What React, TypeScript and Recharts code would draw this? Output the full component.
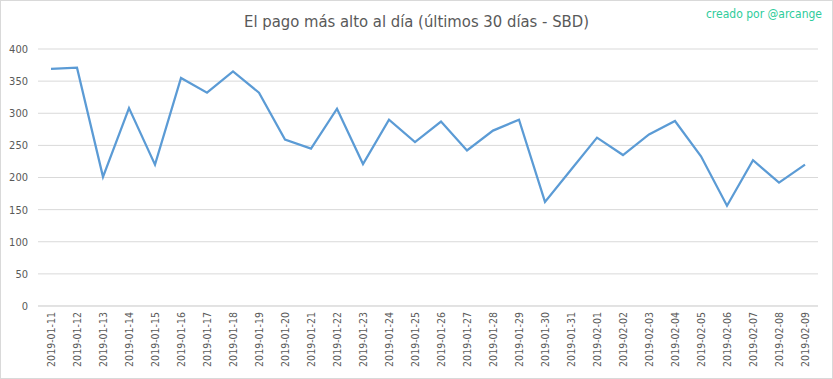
import { LineChart, Line, XAxis, YAxis, CartesianGrid } from 'recharts'

const dates = [
  '2019-01-11', '2019-01-12', '2019-01-13', '2019-01-14', '2019-01-15', '2019-01-16',
  '2019-01-17', '2019-01-18', '2019-01-19', '2019-01-20', '2019-01-21', '2019-01-22',
  '2019-01-23', '2019-01-24', '2019-01-25', '2019-01-26', '2019-01-27', '2019-01-28',
  '2019-01-29', '2019-01-30', '2019-01-31', '2019-02-01', '2019-02-02', '2019-02-03',
  '2019-02-04', '2019-02-05', '2019-02-06', '2019-02-07', '2019-02-08', '2019-02-09',
]

const topPayout = [
  369, 371, 201, 308, 220, 355, 332, 365, 332, 259, 245, 307, 221, 290, 255,
  287, 242, 273, 290, 162, 212, 262, 235, 267, 288, 233, 156, 227, 192, 220,
]

const yTicks = [0, 50, 100, 150, 200, 250, 300, 350, 400]

const data = dates.map((d, i) => ({ date: d, value: topPayout[i] }))

const FONT = '"DejaVu Sans Condensed", "Liberation Sans", sans-serif'

function DateTick({ x, y, payload }: any) {
  return (
    <text
      transform={`translate(${x},${y}) rotate(-90)`}
      x={2}
      y={0}
      dy="0.35em"
      textAnchor="end"
      fontSize={10.5}
      fill="#595959"
      fontFamily={FONT}
    >
      {payload.value}
    </text>
  )
}

export default function App() {
  return (
    <div style={{ position: 'relative', width: 833, height: 379, background: '#fff', fontFamily: FONT }}>
      <style>{'body{margin:0}'}</style>
      <div
        style={{
          position: 'absolute', left: 0, right: 0, top: 12, textAlign: 'center',
          fontSize: 16.5, color: '#595959', paddingLeft: 0,
        }}
      >
        El pago más alto al día (últimos 30 días - SBD)
      </div>
      <div style={{ position: 'absolute', right: 11, top: 7, fontSize: 12, color: '#2ecc9b' }}>
        creado por @arcange
      </div>
      <LineChart width={833} height={379} data={data} margin={{ top: 49, right: 15, left: 0, bottom: 0 }}>
        <CartesianGrid vertical={false} stroke="#d9d9d9" />
        <XAxis
          dataKey="date"
          interval={0}
          height={73}
          padding={{ left: 13, right: 13 }}
          tick={<DateTick />}
          tickLine={false}
          axisLine={{ stroke: '#d9d9d9' }}
        />
        <YAxis
          width={38}
          domain={[0, 400]}
          ticks={yTicks}
          tickLine={false}
          axisLine={false}
          tickMargin={4}
          tick={{ fontSize: 11, fill: '#595959', fontFamily: FONT }}
        />
        <Line
          type="linear"
          dataKey="value"
          stroke="#5b9bd5"
          strokeWidth={2.25}
          dot={false}
          isAnimationActive={false}
        />
      </LineChart>
      <div
        style={{
          position: 'absolute', inset: 0, border: '1px solid #d9d9d9',
          boxSizing: 'border-box', pointerEvents: 'none',
        }}
      />
    </div>
  )
}
